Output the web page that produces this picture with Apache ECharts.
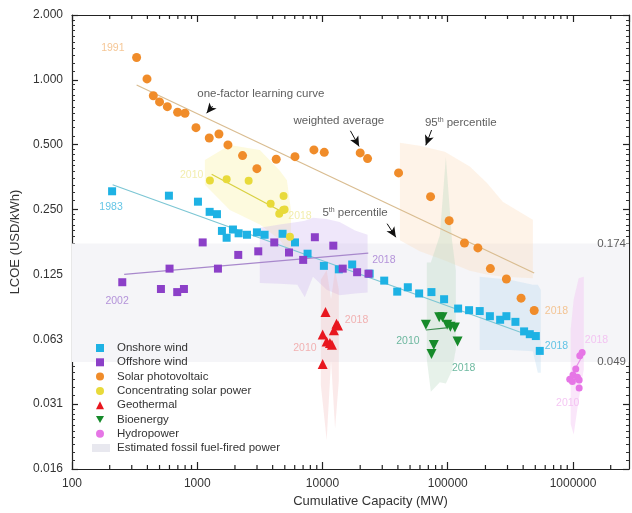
<!DOCTYPE html>
<html><head><meta charset="utf-8">
<script src="https://cdn.jsdelivr.net/npm/echarts@6/dist/echarts.min.js"></script>
<style>html,body{margin:0;padding:0;background:#fff}#c{width:632px;height:513px}</style>
</head><body><div id="c"></div>
<script>
// ---- axis ranges / ticks ----
const X_MIN = 100, X_MAX = 2800000;
const Y_MIN = 0.015625, Y_MAX = 2;
const X_MINOR = [200,300,400,500,600,700,800,900,2000,3000,4000,5000,6000,7000,8000,9000,20000,30000,40000,50000,60000,70000,80000,90000,200000,300000,400000,500000,600000,700000,800000,900000,2000000];
const FOSSIL_RANGE = [0.049, 0.174];

// ---- series values [capacity MW, LCOE USD/kWh] ----
const onshoreWind = [[209,0.304],[594,0.29],[1013,0.272],[1256,0.244],[1437,0.238],[1574,0.199],[1716,0.185],[1928,0.202],[2139,0.194],[2496,0.191],[2995,0.196],[3450,0.191],[4800,0.193],[6030,0.176],[7600,0.156],[10260,0.137],[13500,0.132],[17260,0.139],[23800,0.126],[31100,0.117],[39500,0.104],[48000,0.109],[59100,0.102],[74100,0.1035],[93500,0.0959],[121000,0.0868],[148000,0.0853],[180000,0.0845],[217000,0.080],[262000,0.077],[294000,0.080],[347000,0.0753],[407000,0.068],[452000,0.066],[505000,0.0647],[543000,0.0552]];
const offshoreWind = [[252,0.115],[513,0.107],[601,0.133],[692,0.1035],[783,0.107],[1105,0.176],[1463,0.133],[2125,0.154],[3070,0.160],[4120,0.176],[5400,0.158],[7010,0.146],[8690,0.186],[12200,0.17],[14500,0.133],[18900,0.128],[23300,0.126]];
const solarPV = [[328,1.27],[397,1.01],[446,0.844],[500,0.79],[577,0.751],[697,0.707],[798,0.70],[977,0.60],[1247,0.537],[1490,0.561],[1758,0.499],[2300,0.445],[2993,0.387],[4270,0.428],[6030,0.44],[8540,0.473],[10330,0.461],[20000,0.458],[22900,0.431],[40500,0.370],[72900,0.287],[102600,0.222],[136000,0.175],[174000,0.166],[219000,0.133],[294000,0.119],[385000,0.097],[490000,0.085]];
const csp = [[1262,0.341],[1717,0.346],[2572,0.340],[3855,0.266],[4890,0.289],[4515,0.239],[4857,0.249],[4980,0.25],[5497,0.187]];
const geothermal = [[10570,0.0836],[12940,0.0737],[13300,0.0725],[12330,0.0689],[10030,0.0657],[10790,0.061],[11460,0.06],[11900,0.059],[10030,0.048]];
const bioenergy = [[66900,0.0731],[85400,0.079],[90800,0.079],[98900,0.0731],[105000,0.0714],[114000,0.0708],[77400,0.0588],[74200,0.0534],[119800,0.061]];
const hydropower = [[1183000,0.0543],[1133000,0.0524],[1052000,0.0455],[942000,0.0408],[1000000,0.0427],[1086000,0.0417],[989000,0.0398],[1120000,0.0371],[1120000,0.0405]];

// ---- fitted learning curves ----
const pvFit = [[328,0.947],[490000,0.127]];
const onshoreFit = [[211,0.326],[510000,0.0634]];
const offshoreFit = [[261,0.125],[23200,0.157]];
const cspFit = [[1303,0.365],[4710,0.245]];
const bioFit = [[66900,0.069],[97000,0.0706]];
const hydroFit = [[1050000,0.046],[1180000,0.052]];

// ---- 5th-95th percentile bands [capacity, low, high] ----
const pvBand = [[41500,0.18,0.511],[59800,0.16,0.494],[94800,0.145,0.464],[150000,0.13,0.396],[205000,0.125,0.333],[275000,0.122,0.272],[478000,0.12,0.224]];
const onshoreBand = [[180000,0.0558,0.122],[313000,0.0558,0.118],[478000,0.055,0.112],[524000,0.0437,0.112],[553000,0.0437,0.106]];
const offshoreBand = [[3160,0.114,0.206],[4550,0.113,0.213],[6290,0.112,0.219],[7220,0.098,0.222],[8390,0.122,0.229],[10800,0.106,0.226],[13700,0.1,0.219],[18200,0.102,0.2],[22900,0.103,0.191]];
const cspBand = [[1150,0.326,0.425],[1820,0.249,0.499],[3160,0.213,0.473],[4550,0.181,0.38],[5200,0.163,0.342],[5600,0.163,0.249]];
const geoBand = [[9700,0.0383,0.118],[10800,0.0213,0.131],[11700,0.0498,0.096],[12600,0.024,0.131],[13500,0.04,0.106]];
const bioBand = [[68100,0.0502,0.142],[73300,0.0357,0.142],[86500,0.0395,0.19],[96600,0.039,0.438],[108000,0.0446,0.181],[116000,0.056,0.131]];
const hydroBand = [[959000,0.0252,0.0697],[1013000,0.0226,0.0957],[1110000,0.0327,0.12],[1220000,0.0454,0.122]];

// ---- text annotations ----
const yearLabels = [
  [212,1.41,'1991','#f2b87a'],[205,0.256,'1983','#3cb6e0'],[229,0.0937,'2002','#a47ad2'],
  [902,0.362,'2010','#efe89a'],[6610,0.232,'2018','#efe89a'],[30900,0.145,'2018','#a47ad2'],
  [18700,0.077,'2018','#f0a0a0'],[7240,0.0566,'2010','#f0a0a0'],[48100,0.0616,'2010','#4aa888'],
  [134000,0.0457,'2018','#4aa888'],[738000,0.0842,'2018','#f2b87a'],[738000,0.0583,'2018','#3cb6e0'],
  [1540000,0.0622,'2018','#f2b8f0'],[908000,0.0316,'2010','#f2b8f0']
];
const notes = [[3220,0.86,'one-factor learning curve'],[13500,0.643,'weighted average'],[127000,0.634,'95{s|th} percentile'],[18200,0.242,'5{s|th} percentile']];
const arrows = [[[1326,0.756],[1188,0.70]],[[16700,0.58],[19600,0.491]],[[74300,0.585],[66800,0.497]],[[32800,0.215],[38500,0.186]]];
const rangeLabels = [[X_MAX,0.174,'0.174'],[X_MAX,0.049,'0.049']];

const FONT = 'Liberation Sans, Arial, sans-serif';
const bands = [
  {pts: cspBand, color:'rgba(248,240,160,0.35)'},
  {pts: offshoreBand, color:'rgba(205,180,238,0.32)'},
  {pts: pvBand, color:'rgba(253,222,190,0.35)'},
  {pts: geoBand, color:'rgba(242,180,180,0.28)'},
  {pts: bioBand, color:'rgba(180,215,190,0.32)'},
  {pts: onshoreBand, color:'rgba(180,215,238,0.32)'},
  {pts: hydroBand, color:'rgba(242,190,242,0.38)'}
];

const isPow = (v, b) => { const e = Math.log(v)/Math.log(b); return Math.abs(e - Math.round(e)) < 1e-6; };

const chart = echarts.init(document.getElementById('c'), null, {renderer:'canvas'});
const axisLineStyle = {color:'#222', width:1.2};
function scatter(name, data, symbol, size, color, rotate){
  return {type:'scatter', name, data, symbol, symbolSize:size, symbolRotate:rotate||0,
    itemStyle:{color, opacity:1}, z:5, xAxisIndex:0, yAxisIndex:0};
}
function fit(data, color){
  return {type:'line', data, symbol:'none', lineStyle:{color, width:1.2}, z:4, silent:true, xAxisIndex:0, yAxisIndex:0};
}
const option = {
  animation:false,
  backgroundColor:'#fff',
  textStyle:{fontFamily:FONT},
  grid:{left:72, right:3, top:15, bottom:44, containLabel:false},
  legend:[{
    orient:'vertical', left:96, top:342, padding:0, itemWidth:8, itemHeight:8, itemGap:2.3,
    textStyle:{fontFamily:FONT, fontSize:11.5, color:'#333', lineHeight:12, padding:[0,0,0,8]},
    data:[
      {name:'Onshore wind', icon:'rect'},
      {name:'Offshore wind', icon:'rect'},
      {name:'Solar photovoltaic', icon:'circle'},
      {name:'Concentrating solar power', icon:'circle'},
      {name:'Geothermal', icon:'triangle'},
      {name:'Bioenergy', icon:'path://M0,0 L10,0 L5,9 Z'},
      {name:'Hydropower', icon:'circle'}
    ]
  },{
    orient:'vertical', left:92, top:442, padding:0, itemWidth:18, itemHeight:8,
    textStyle:{fontFamily:FONT, fontSize:11.5, color:'#333', lineHeight:12, padding:[0,0,0,2]},
    data:[{name:'Estimated fossil fuel-fired power', icon:'rect'}]
  }],
  xAxis:[{
    type:'log', logBase:10, min:X_MIN, max:X_MAX, position:'bottom',
    axisLine:{show:true, onZero:false, lineStyle:axisLineStyle},
    axisTick:{show:true, inside:true, length:7, lineStyle:{color:'#222', width:1.2}},
    axisLabel:{show:true, margin:9, fontSize:12, color:'#333', fontFamily:FONT, showMaxLabel:false,
      formatter:v => isPow(v,10) ? String(Math.round(v)) : ''},
    splitLine:{show:false},
    name:'Cumulative Capacity (MW)', nameLocation:'middle', nameGap:25,
    nameTextStyle:{fontSize:13, color:'#333', fontFamily:FONT, padding:[0,0,0,40]}
  },{
    type:'log', logBase:10, min:X_MIN, max:X_MAX, position:'top',
    axisLine:{show:true, onZero:false, lineStyle:axisLineStyle},
    axisTick:{show:true, inside:true, length:7, lineStyle:{color:'#222', width:1.2}},
    axisLabel:{show:false}, splitLine:{show:false}
  }],
  yAxis:[{
    type:'log', logBase:2, min:Y_MIN, max:Y_MAX, position:'left',
    axisLine:{show:true, onZero:false, lineStyle:axisLineStyle},
    axisTick:{show:true, inside:true, length:6, lineStyle:{color:'#222', width:1.2}},
    minorTick:{show:true, splitNumber:10, length:3, lineStyle:{color:'#333', width:1}},
    axisLabel:{show:true, margin:9, fontSize:12, color:'#333', fontFamily:FONT,
      formatter:v => isPow(v,2) ? v.toFixed(3) : ''},
    splitLine:{show:false}, minorSplitLine:{show:false},
    name:'LCOE (USD/kWh)', nameLocation:'middle', nameGap:45,
    nameTextStyle:{fontSize:13, color:'#333', fontFamily:FONT}
  },{
    type:'log', logBase:2, min:Y_MIN, max:Y_MAX, position:'right',
    axisLine:{show:true, onZero:false, lineStyle:axisLineStyle},
    axisTick:{show:true, inside:true, length:6, lineStyle:{color:'#222', width:1.2}},
    minorTick:{show:true, splitNumber:10, length:3, lineStyle:{color:'#333', width:1}},
    axisLabel:{show:false}, splitLine:{show:false}
  }],
  series:[
    {type:'line', name:'Estimated fossil fuel-fired power', data:[], itemStyle:{color:'#e8e8ef'},
      lineStyle:{color:'#e8e8ef'}, z:0,
      markArea:{silent:true, itemStyle:{color:'#f5f5f8', opacity:1}, data:[[{yAxis:FOSSIL_RANGE[0]},{yAxis:FOSSIL_RANGE[1]}]]}},
    {type:'custom', silent:true, z:1, clip:true, data:bands.map(b => [b.pts[0][0], b.pts[0][1]]),
      encode:{x:0, y:1},
      renderItem:(params, api) => {
        const b = bands[params.dataIndex];
        const up = b.pts.map(p => api.coord([p[0], p[2]]));
        const lo = b.pts.slice().reverse().map(p => api.coord([p[0], p[1]]));
        return {type:'polygon', shape:{points: up.concat(lo)}, style:{fill:b.color}};
      }},
    {type:'custom', silent:true, z:6, clip:false, data:X_MINOR.map(v => [v, 1]), encode:{x:0, y:1},
      renderItem:(params, api) => {
        const v = X_MINOR[params.dataIndex];
        const b = api.coord([v, Y_MIN]), t = api.coord([v, Y_MAX]);
        const st = {stroke:'#222', lineWidth:1.2};
        return {type:'group', children:[
          {type:'line', shape:{x1:b[0], y1:b[1], x2:b[0], y2:b[1]-4}, style:st},
          {type:'line', shape:{x1:t[0], y1:t[1], x2:t[0], y2:t[1]+4}, style:st}
        ]};
      }},
    fit(pvFit, '#d9bc90'),
    fit(onshoreFit, '#7cc6d4'),
    fit(offshoreFit, '#a888cc'),
    fit(cspFit, '#d8d040'),
    fit(bioFit, '#3c8c50'),
    fit(hydroFit, '#e890e8'),
    scatter('Onshore wind', onshoreWind, 'rect', 8, '#1eb2e4'),
    scatter('Offshore wind', offshoreWind, 'rect', 8, '#8c40c8'),
    scatter('Solar photovoltaic', solarPV, 'circle', 9, '#f08c2a'),
    scatter('Concentrating solar power', csp, 'circle', 8, '#e8da3a'),
    scatter('Geothermal', geothermal, 'triangle', 10, '#e8161e'),
    scatter('Bioenergy', bioenergy, 'triangle', 10, '#168a2a', 180),
    scatter('Hydropower', hydropower, 'circle', 7, '#e676e6'),
    {type:'scatter', silent:true, z:7, symbolSize:0,
      data:yearLabels.map(d => ({value:[d[0], d[1]], label:{color:d[3]}})),
      label:{show:true, position:'inside', fontSize:10.5, fontFamily:FONT,
        formatter:p => yearLabels[p.dataIndex][2]}},
    {type:'scatter', silent:true, z:7, symbolSize:0,
      data:notes.map(d => [d[0], d[1]]),
      label:{show:true, position:'inside', fontSize:11.5, color:'#333', fontFamily:FONT,
        formatter:p => notes[p.dataIndex][2],
        rich:{s:{fontSize:7, verticalAlign:'top', color:'#333', padding:[0,0,5,0]}}}},
    {type:'scatter', silent:true, z:7, symbolSize:0,
      data:rangeLabels.map(d => [d[0], d[1]]),
      label:{show:true, position:'left', distance:3, fontSize:11.5, color:'#333', fontFamily:FONT,
        formatter:p => rangeLabels[p.dataIndex][2]}},
    {type:'line', data:[], silent:true, z:7,
      markLine:{silent:true, symbol:['none','arrow'], symbolSize:[7,10],
        lineStyle:{color:'#111', width:1, type:'solid'}, label:{show:false},
        data:arrows.map(a => [{coord:a[0]},{coord:a[1]}])}}
  ]
};
chart.setOption(option);
</script></body></html>
